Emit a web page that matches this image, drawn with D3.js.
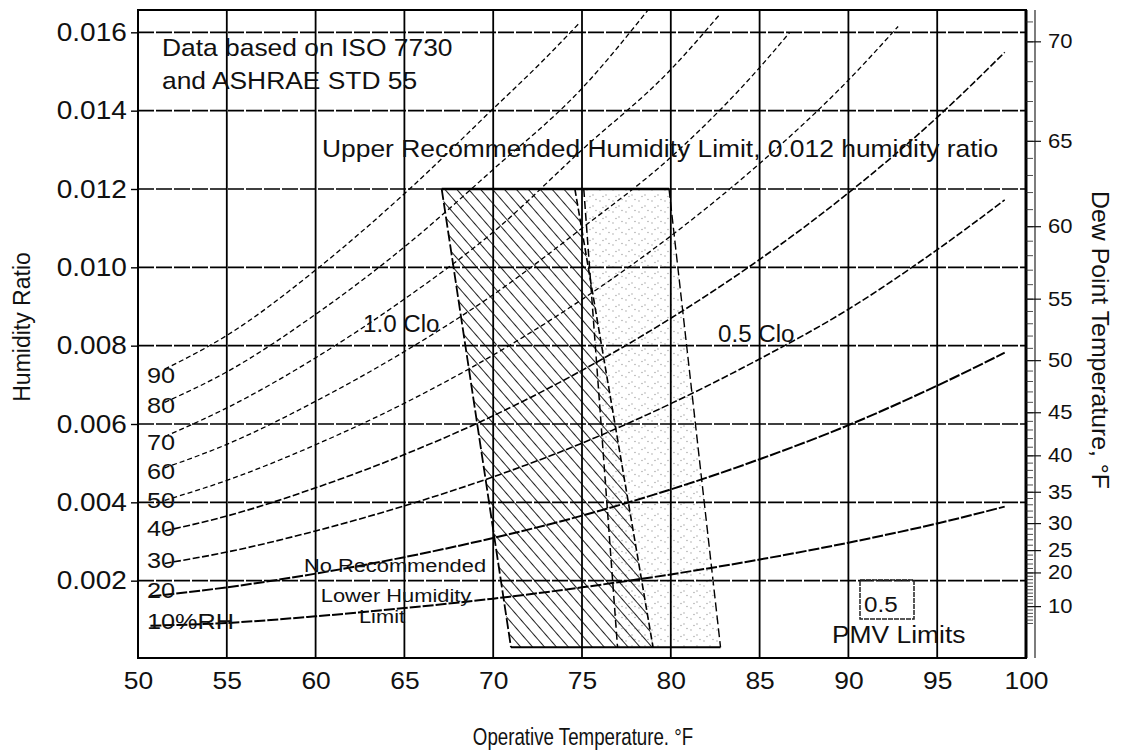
<!DOCTYPE html>
<html>
<head>
<meta charset="utf-8">
<script src="https://cdn.jsdelivr.net/npm/d3@7"></script>
<style>
  html, body { margin: 0; padding: 0; background: #fff; }
  svg { display: block; }
  text { font-family: "Liberation Sans", Arial, Helvetica, sans-serif; fill: #111; }
</style>
</head>
<body>
<svg id="chart" width="1124" height="753"></svg>
<script>
// ---- axis values ----
const tempTicks = [50, 55, 60, 65, 70, 75, 80, 85, 90, 95, 100];
const ratioTicks = [0.002, 0.004, 0.006, 0.008, 0.010, 0.012, 0.014, 0.016];
const dewLabels = [10, 20, 25, 30, 35, 40, 45, 50, 55, 60, 65, 70];
const dewRatio = [0.00135, 0.00221, 0.00278, 0.00347, 0.00427, 0.00520, 0.00630, 0.00763, 0.00920, 0.01105, 0.01323, 0.01577];

// ---- relative humidity curves: operative temperature (°F) vs humidity ratio ----
const rh10T = [50.7, 55, 60, 65, 70, 75, 80, 85, 90, 95, 98.8];
const rh10W = [0.00085, 0.00092, 0.00109, 0.00130, 0.00154, 0.00183, 0.00216, 0.00254, 0.00297, 0.00346, 0.00389];
const rh20T = [50.7, 55, 60, 65, 70, 75, 80, 85, 90, 95, 98.8];
const rh20W = [0.00160, 0.00183, 0.00218, 0.00260, 0.00309, 0.00366, 0.00433, 0.00510, 0.00597, 0.00698, 0.00782];
const rh30T = [51.5, 55, 60, 65, 70, 75, 80, 85, 90, 95, 98.8];
const rh30W = [0.00244, 0.00273, 0.00327, 0.00391, 0.00465, 0.00551, 0.00652, 0.00766, 0.00893, 0.01045, 0.01172];
const rh40T = [51.5, 55, 60, 65, 70, 75, 80, 85, 90, 95, 98.8];
const rh40W = [0.00327, 0.00365, 0.00437, 0.00522, 0.00621, 0.00737, 0.00870, 0.01020, 0.01190, 0.01383, 0.01549];
const rh50T = [51.5, 55, 60, 65, 70, 75, 80, 85, 90, 92.8];
const rh50W = [0.00405, 0.00456, 0.00547, 0.00653, 0.00776, 0.00918, 0.01080, 0.01265, 0.01478, 0.01615];
const rh60T = [51.5, 55, 60, 65, 70, 75, 80, 85, 86.7];
const rh60W = [0.00488, 0.00548, 0.00658, 0.00785, 0.00930, 0.01100, 0.01281, 0.01510, 0.01600];
const rh70T = [51.5, 55, 60, 65, 70, 75, 80, 82.8];
const rh70W = [0.00568, 0.00641, 0.00769, 0.00919, 0.01090, 0.01300, 0.01505, 0.01648];
const rh80T = [51.5, 55, 60, 65, 70, 75, 78.7];
const rh80W = [0.00655, 0.00733, 0.00880, 0.01052, 0.01250, 0.01457, 0.01656];
const rh90T = [51.5, 55, 60, 65, 70, 72.7, 74.9];
const rh90W = [0.00740, 0.00826, 0.00993, 0.01188, 0.01405, 0.01523, 0.01626];
const rhLabels = ["10%RH", "20", "30", "40", "50", "60", "70", "80", "90"];

// ---- comfort zones (corners: top-left, top-right, bottom-right, bottom-left) ----
const clo10Temp = [67.1, 74.6, 79.0, 71.0];
const clo10Ratio = [0.012, 0.012, 0.0003, 0.0003];
const clo05Temp = [75.1, 79.9, 82.8, 77.0];
const clo05Ratio = [0.012, 0.012, 0.0003, 0.0003];

// ---- drawing ----
const svg = d3.select("#chart");
const x = d3.scaleLinear().domain([50, 100]).range([138, 1026]);
const y = d3.scaleLinear().domain([0, 0.01657]).range([659, 10]);
const SX = 1.1; // horizontal stretch of the lettering

const defs = svg.append("defs");
const hatch = defs.append("pattern")
  .attr("id", "hatch").attr("patternUnits", "userSpaceOnUse")
  .attr("width", 9).attr("height", 9)
  .attr("patternTransform", "rotate(-41)");
hatch.append("line").attr("x1", 4.5).attr("y1", 0).attr("x2", 4.5).attr("y2", 9)
  .attr("stroke", "#222").attr("stroke-width", 1);

const stipple = defs.append("pattern")
  .attr("id", "stipple").attr("patternUnits", "userSpaceOnUse")
  .attr("width", 13).attr("height", 11);
[[2, 3], [8, 8], [11, 1.5], [5, 9.5]].forEach(([cx, cy]) =>
  stipple.append("circle").attr("cx", cx).attr("cy", cy).attr("r", 0.65).attr("fill", "#999"));

const zone = (temps, ratios) => temps.map((t, i) => [t, ratios[i]]);
const poly = d3.line().x(d => x(d[0])).y(d => y(d[1]));

// 0.5 clo zone (stippled) and 1.0 clo zone (hatched)
const z05 = zone(clo05Temp, clo05Ratio);
const z10 = zone(clo10Temp, clo10Ratio);
svg.append("path").attr("d", poly(z05) + "Z").attr("fill", "url(#stipple)");
svg.append("path").attr("d", poly(z10) + "Z").attr("fill", "url(#hatch)");

// grid
const grid = svg.append("g");
grid.selectAll(".vg").data(tempTicks.slice(1, -1)).join("line")
  .attr("x1", d => x(d)).attr("x2", d => x(d))
  .attr("y1", y(0)).attr("y2", y.range()[1])
  .attr("stroke", "#000").attr("stroke-width", 1.8);
grid.selectAll(".hg").data(ratioTicks).join("line")
  .attr("x1", x(50)).attr("x2", x(100))
  .attr("y1", d => y(d)).attr("y2", d => y(d))
  .attr("stroke", "#000").attr("stroke-width", 1.6)
  .attr("stroke-dasharray", "16,2");

// relative humidity curves
const curves = [
  [rh10T, rh10W], [rh20T, rh20W], [rh30T, rh30W], [rh40T, rh40W], [rh50T, rh50W],
  [rh60T, rh60W], [rh70T, rh70W], [rh80T, rh80W], [rh90T, rh90W]
].map(([t, w]) => t.map((v, i) => [v, w[i]]));
const rhLine = d3.line().x(d => x(d[0])).y(d => y(d[1])).curve(d3.curveMonotoneX);
svg.append("g").selectAll("path").data(curves).join("path")
  .attr("d", rhLine)
  .attr("fill", "none").attr("stroke", "#000")
  .attr("stroke-width", (d, i) => i < 2 ? 2 : (i < 4 ? 1.6 : 1.3))
  .attr("stroke-dasharray", (d, i) => i < 2 ? "11,2" : (i < 4 ? "7,2.5" : "5,3"));

// zone outlines
const edge = (a, b, w, dash) => svg.append("path")
  .attr("d", poly([a, b])).attr("fill", "none").attr("stroke", "#000")
  .attr("stroke-width", w).attr("stroke-dasharray", dash);
edge(z10[0], z10[3], 1.8, "11,3");
edge(z10[1], z10[2], 1.6, "7,3");
edge(z05[0], z05[3], 1.5, "8,4");
edge(z05[1], z05[2], 1.4, "9,4");
edge(z10[0], z05[1], 2.4, null);
edge(z10[3], z05[2], 1.9, null);

// frame
svg.append("rect")
  .attr("x", x(50)).attr("y", y.range()[1])
  .attr("width", x(100) - x(50)).attr("height", y(0) - y.range()[1] - 1)
  .attr("fill", "none").attr("stroke", "#000").attr("stroke-width", 2);
svg.append("line").attr("x1", x(100)).attr("x2", x(100))
  .attr("y1", y.range()[1]).attr("y2", y(0) - 1)
  .attr("stroke", "#000").attr("stroke-width", 3);

// left axis
const yAxis = svg.append("g").attr("transform", `translate(${x(50)},0)`)
  .call(d3.axisLeft(y).tickValues(ratioTicks).tickSize(7).tickPadding(3)
    .tickFormat(d3.format(".3f")));
yAxis.select(".domain").remove();
yAxis.selectAll("line").attr("stroke", "#000").attr("stroke-width", 1.4);
yAxis.selectAll("text").attr("font-size", 25).attr("transform", `scale(1.12,1)`)
  .style("font-family", "'Liberation Sans', Arial, sans-serif").attr("fill", "#111");

// bottom axis
const xAxis = svg.append("g").attr("transform", `translate(0,${y(0) - 1})`)
  .call(d3.axisBottom(x).tickValues(tempTicks).tickSize(0).tickPadding(14)
    .tickFormat(d3.format("d")));
xAxis.select(".domain").remove();
xAxis.selectAll("text").attr("font-size", 24).attr("transform", `scale(${SX},1)`)
  .style("font-family", "'Liberation Sans', Arial, sans-serif").attr("fill", "#111");

// dew point axis on the right
const dewScale = d3.scaleLinear().domain(dewLabels).range(dewRatio);
const dewMinor = d3.range(5, 73).map(d => dewScale(d)).filter(w => w < y.domain()[1]);
const dewG = svg.append("g").attr("transform", `translate(${x(100)},0)`);
dewG.append("line").attr("x1", 9).attr("x2", 9)
  .attr("y1", y.range()[1]).attr("y2", y(0) - 1)
  .attr("stroke", "#111").attr("stroke-width", 1.1);
const dewMinorAxis = dewG.append("g")
  .call(d3.axisRight(y).tickValues(dewMinor).tickSize(7).tickFormat(""));
dewMinorAxis.select(".domain").remove();
dewMinorAxis.selectAll("line").attr("stroke", "#222").attr("stroke-width", 0.8);
const dewAxis = dewG.append("g")
  .call(d3.axisRight(y).tickValues(dewRatio).tickSize(15).tickPadding(5)
    .tickFormat((d, i) => dewLabels[i]));
dewAxis.select(".domain").remove();
dewAxis.selectAll("line").attr("stroke", "#111").attr("stroke-width", 1.2);
dewAxis.selectAll("text").attr("font-size", 20).attr("transform", `scale(${SX},1)`)
  .style("font-family", "'Liberation Sans', Arial, sans-serif").attr("fill", "#222");

// lettering helper (stretched horizontally)
function label(str, px, py, size, opts = {}) {
  const g = svg.append("g")
    .attr("transform", `translate(${px},${py}) rotate(${opts.rotate || 0}) scale(${opts.sx || SX},1)`);
  return g.append("text").text(str)
    .attr("font-size", size)
    .attr("text-anchor", opts.anchor || "start")
    .attr("fill", opts.fill || "#111");
}

// RH curve labels
const rhDy = [3, 2, 5, 5, 8, 11, 13, 11, 14];
curves.forEach((c, i) => label(rhLabels[i], 147, y(c[0][1]) + rhDy[i], 22, { sx: 1.15 }));

// annotations
label("Data based on ISO 7730", 162, 56, 24);
label("and ASHRAE STD 55", 162, 89, 24);
label("Upper Recommended Humidity Limit, 0.012 humidity ratio", 322, 157, 24);
label("1.0 Clo", 363, 332, 23, { sx: 1.05 });
label("0.5 Clo", 718, 342, 23, { sx: 1.05 });
label("No Recommended", 395, 572, 19, { anchor: "middle", sx: 1.15 });
label("Lower Humidity", 396, 602, 19, { anchor: "middle", sx: 1.15 });
label("Limit", 382, 623, 19, { anchor: "middle", sx: 1.15 });

// PMV legend
svg.append("rect").attr("x", 860).attr("y", 580).attr("width", 54).attr("height", 39)
  .attr("fill", "none").attr("stroke", "#222").attr("stroke-width", 1.5)
  .attr("stroke-dasharray", "5,1");
label("0.5", 864, 612, 22, { fill: "#666" });
label("PMV Limits", 832, 643, 24);

// axis titles
label("Operative Temperature. °F", 583, 745, 24, { anchor: "middle", sx: 0.78 });
label("Humidity Ratio", 30, 327, 23, { anchor: "middle", rotate: -90, sx: 1.0 });
label("Dew Point Temperature, °F", 1092, 340, 23, { anchor: "middle", rotate: 90, sx: 1.08 });
</script>
</body>
</html>
